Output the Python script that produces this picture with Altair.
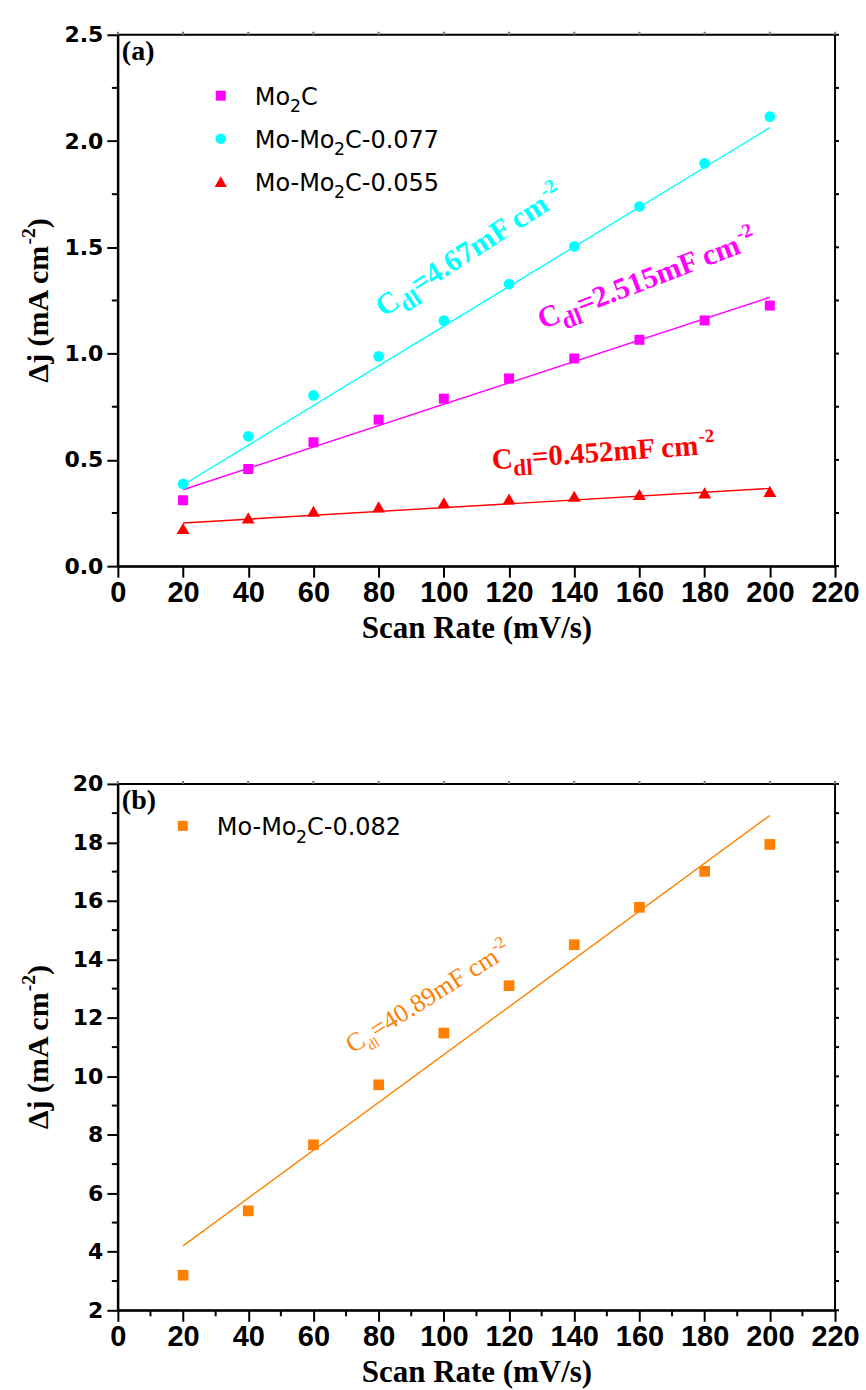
import altair as alt
import pandas as pd

# ---------------- data ----------------
# Scan rates (mV/s) shared by every series
rates = [20, 40, 60, 80, 100, 120, 140, 160, 180, 200]

# Δj (mA cm^-2), panel (a)
mo2c = [0.310, 0.457, 0.583, 0.689, 0.788, 0.883, 0.977, 1.065, 1.156, 1.226]
mo_mo2c_077 = [0.387, 0.611, 0.803, 0.987, 1.155, 1.327, 1.504, 1.692, 1.895, 2.115]
mo_mo2c_055 = [0.177, 0.227, 0.258, 0.279, 0.298, 0.316, 0.329, 0.337, 0.345, 0.352]

# Δj (mA cm^-2), panel (b)
mo_mo2c_082 = [3.20, 5.40, 7.66, 9.71, 11.48, 13.10, 14.50, 15.78, 17.01, 17.93]

# Series names, double-layer capacitance (mF cm^-2) and fit intercepts (mA cm^-2)
# Linear fit: Δj = 2 * Cdl * v + b
names_a = ["Mo₂C", "Mo-Mo₂C-0.077", "Mo-Mo₂C-0.055"]
cdl_a = [2.515, 4.67, 0.452]
intercept_a = [0.259, 0.195, 0.185]
names_b = ["Mo-Mo₂C-0.082"]
cdl_b = [40.89]
intercept_b = [2.565]

# Axis tick values
x_major = [0, 20, 40, 60, 80, 100, 120, 140, 160, 180, 200, 220]
x_minor_b = [10, 30, 50, 70, 90, 110, 130, 150, 170, 190, 210]
y_major_a = [0.0, 0.5, 1.0, 1.5, 2.0, 2.5]
y_minor_a = [0.25, 0.75, 1.25, 1.75, 2.25]
y_major_b = [2, 4, 6, 8, 10, 12, 14, 16, 18, 20]
y_minor_b = [3, 5, 7, 9, 11, 13, 15, 17, 19]

# ---------------- styles ----------------
W = 718
H_A = 532
H_B = 527
SERIF = "Liberation Serif"
X_LABEL_FONT = "Liberation Sans Narrow, Arial Narrow, Liberation Sans"
SANS = "DejaVu Sans"

colors_a = ["#FF00FF", "#00FFFF", "#FF0000"]
shapes_a = ["square", "circle", "triangle-up"]
sizes_a = [100, 115, 165]
colors_b = ["#FF8000"]
shapes_b = ["square"]
sizes_b = [115]

ONE = pd.DataFrame({"k": [0]})

# Glyph advance widths (em)
TIMES_BOLD = {" ": .25, "(": .333, ")": .333, "-": .333, ".": .25, "=": .57,
              "A": .722, "C": .722, "F": .611, "c": .444, "d": .556, "l": .278,
              "m": .833, "j": .333, "Δ": .612}
TIMES_REG = {" ": .25, "-": .333, ".": .25, "=": .564, "C": .667, "F": .556,
             "c": .444, "d": .5, "l": .278, "m": .778}
DEJAVU = {"M": .863, "o": .612, "-": .361, "C": .698, ".": .318}


def text_width(s, table, digit=0.5):
    return sum(table.get(ch, digit) for ch in s)


def rich_text(pieces, x, y, angle, color, size, bold, sub=0.8, sup=0.65,
              sub_shift=0.28, sup_shift=0.42, font=SERIF, table=None, digit=0.5):
    """Text with subscripts/superscripts, laid out along a (rotated) baseline."""
    if table is None:
        table = TIMES_BOLD if bold else TIMES_REG
    layers = []
    adv = 0.0
    for txt, kind in pieces:
        if kind == "sub":
            fs, shift = size * sub, size * sub_shift
        elif kind == "sup":
            fs, shift = size * sup, -size * sup_shift
        else:
            fs, shift = size, 0.0
        layers.append(
            alt.Chart(ONE).mark_text(
                text=txt, align="left", baseline="alphabetic", angle=angle,
                dx=round(adv, 2), dy=round(shift, 2), fontSize=round(fs, 2),
                font=font, fontWeight="bold" if bold else "normal", color=color,
            ).encode(x=x, y=y)
        )
        adv += text_width(txt, table, digit) * fs
    return layers


def y_title(height):
    size = 30
    pieces = [("Δj (mA cm", "n"), ("-2", "sup"), (")", "n")]
    total = (text_width("Δj (mA cm", TIMES_BOLD) + text_width(")", TIMES_BOLD)) * size \
        + text_width("-2", TIMES_BOLD) * size * 0.65
    return rich_text(pieces, alt.value(-70), alt.value(height / 2 + total / 2),
                     270, "black", size, True)


def legend_pieces(name):
    head, tail = name.split("₂")
    return [(head, "n"), ("2", "sub"), (tail, "n")]


def panel(names, cols, values, cdls, icpts, shapes, sizes, ydom, y_major, y_minor,
          x_minor, height, yfmt, labels, legend, tag):
    fit = pd.DataFrame(
        [{"series": n, "rate": r, "j": b + 2 * c / 1000 * r}
         for n, c, b in zip(names, cdls, icpts) for r in (rates[0], rates[-1])]
    )
    xs = alt.Scale(domain=[0, 220], nice=False, zero=False)
    ys = alt.Scale(domain=ydom, nice=False, zero=False)
    color = alt.Color("series:N", scale=alt.Scale(domain=names, range=cols), legend=None)

    x_axis = alt.Axis(values=x_major, format="d", title="Scan Rate (mV/s)",
                      labelFont=X_LABEL_FONT, labelFontWeight="bold", labelFontSize=29,
                      labelPadding=1, tickSize=11, titleFont=SERIF,
                      titleFontWeight="bold", titleFontSize=31, titlePadding=6,
                      labelFlush=False)
    y_axis = alt.Axis(values=y_major, format=yfmt, title=None, labelFont=SANS,
                      labelFontWeight="bold", labelFontSize=22, labelPadding=4,
                      tickSize=11, labelFlush=False)

    def xf(field):
        return alt.X(field, scale=xs, axis=x_axis)

    def yf(field):
        return alt.Y(field, scale=ys, axis=y_axis)

    lines = alt.Chart(fit).mark_line(strokeWidth=1.4).encode(
        x=xf("rate:Q"), y=yf("j:Q"), color=color, detail="series:N",
    )
    point_layers = []
    for n, vals, col, shp, sz in zip(names, values, cols, shapes, sizes):
        pts = pd.DataFrame({"rate": rates, "j": vals})
        point_layers.append(
            alt.Chart(pts).mark_point(filled=True, opacity=1, shape=shp, size=sz,
                                      color=col).encode(x=xf("rate:Q"), y=yf("j:Q"))
        )

    # minor ticks on the left, ticks on the right frame, ticks on the top frame
    ymin_df = pd.DataFrame({"v": y_minor})
    yall_df = pd.DataFrame({"v": sorted(y_major + y_minor)})
    xtop_df = pd.DataFrame({"v": x_major})
    tick_layers = [
        alt.Chart(ymin_df).mark_rule(color="black", strokeWidth=2).encode(
            y=yf("v:Q"), x=alt.value(0), x2=alt.value(-6)),
        alt.Chart(yall_df).mark_rule(color="black", strokeWidth=2).encode(
            y=yf("v:Q"), x=alt.value(W), x2=alt.value(W + 4)),
        alt.Chart(xtop_df).mark_rule(color="#777777", strokeWidth=2).encode(
            x=xf("v:Q"), y=alt.value(0), y2=alt.value(-3)),
    ]
    if x_minor:
        tick_layers.append(
            alt.Chart(pd.DataFrame({"v": x_minor})).mark_rule(color="black", strokeWidth=2).encode(
                x=xf("v:Q"), y=alt.value(height), y2=alt.value(height + 6)))

    ann = []
    for (pieces, px, py, ang, col, size, bold, sub) in labels:
        ann += rich_text(pieces, alt.XDatum(px, scale=xs, axis=x_axis),
                         alt.YDatum(py, scale=ys, axis=y_axis),
                         ang, col, size, bold, sub=sub)

    leg = []
    for (name, col, shp, sz, lx, ly) in legend:
        leg.append(alt.Chart(ONE).mark_point(filled=True, opacity=1, shape=shp, size=sz,
                                             color=col).encode(x=alt.value(lx), y=alt.value(ly)))
        leg += rich_text(legend_pieces(name), alt.value(lx + 34), alt.value(ly + 9), 0,
                         "black", 24, False, sub=0.72, sub_shift=0.32,
                         font=SANS, table=DEJAVU, digit=0.636)

    tag_layer = alt.Chart(ONE).mark_text(text=tag, align="left", baseline="alphabetic",
                                         font=SERIF, fontWeight="bold", fontSize=28,
                                         color="black").encode(x=alt.value(4), y=alt.value(25))

    return alt.layer(lines, *point_layers, *tick_layers, *ann, *leg, tag_layer,
                     *y_title(height)).properties(width=W, height=height)


labels_a = [
    ([("C", "n"), ("dl", "sub"), ("=4.67mF cm", "n"), ("-2", "sup")], 81.5, 1.17, 327,
     colors_a[1], 30, True, 0.8),
    ([("C", "n"), ("dl", "sub"), ("=2.515mF cm", "n"), ("-2", "sup")], 130.2, 1.114, 339,
     colors_a[0], 30, True, 0.8),
    ([("C", "n"), ("dl", "sub"), ("=0.452mF cm", "n"), ("-2", "sup")], 114.9, 0.456, 356,
     colors_a[2], 29, True, 0.8),
]
legend_a = [
    (names_a[0], colors_a[0], "square", 100, 103, 61),
    (names_a[1], colors_a[1], "circle", 110, 103, 104),
    (names_a[2], colors_a[2], "triangle-up", 150, 103, 147),
]
labels_b = [
    ([("C", "n"), ("dl", "sub"), ("=40.89mF cm", "n"), ("-2", "sup")], 72, 10.77, 328,
     colors_b[0], 26, False, 0.55),
]
legend_b = [(names_b[0], colors_b[0], "square", 100, 65, 42)]

panel_a = panel(names_a, colors_a, [mo2c, mo_mo2c_077, mo_mo2c_055], cdl_a, intercept_a,
                shapes_a, sizes_a, [0, 2.5], y_major_a, y_minor_a, None, H_A, ".1f",
                labels_a, legend_a, "(a)")
panel_b = panel(names_b, colors_b, [mo_mo2c_082], cdl_b, intercept_b,
                shapes_b, sizes_b, [2, 20], y_major_b, y_minor_b, x_minor_b, H_B, "d",
                labels_b, legend_b, "(b)")

chart = alt.vconcat(panel_a, panel_b, spacing=128).resolve_scale(
    color="independent",
).properties(
    padding={"left": 18, "top": 22, "right": 5, "bottom": 5},
    background="white",
).configure_axis(
    grid=False, domainColor="black", domainWidth=2, tickColor="black", tickWidth=2,
    labelColor="black", titleColor="black",
).configure_view(stroke="black", strokeWidth=2)

chart.save("out.html", embed_options={"renderer": "svg", "actions": False})
